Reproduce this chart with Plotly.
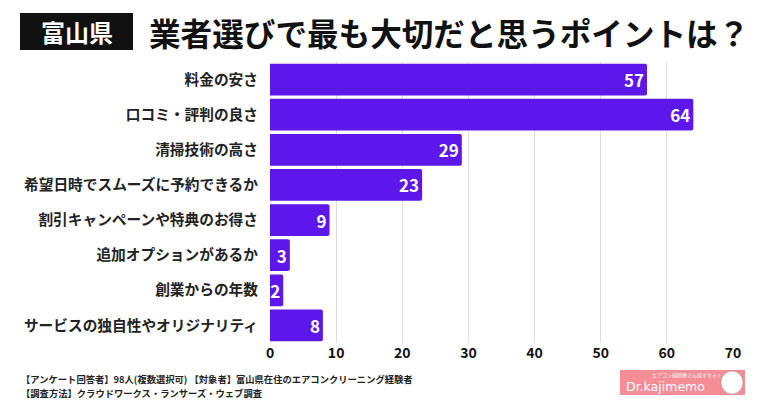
import plotly.graph_objects as go

categories = [
    "料金の安さ",
    "口コミ・評判の良さ",
    "清掃技術の高さ",
    "希望日時でスムーズに予約できるか",
    "割引キャンペーンや特典のお得さ",
    "追加オプションがあるか",
    "創業からの年数",
    "サービスの独自性やオリジナリティ",
]
values = [57, 64, 29, 23, 9, 3, 2, 8]
x_ticks = [0, 10, 20, 30, 40, 50, 60, 70]

title_badge = "富山県"
title_text = "業者選びで最も大切だと思うポイントは？"
note1 = "【アンケート回答者】98人(複数選択可) 【対象者】富山県在住のエアコンクリーニング経験者"
note2 = "【調査方法】クラウドワークス・ランサーズ・ウェブ調査"

W, H = 760, 400
ML, MR, MT, MB = 270, 27, 62, 57
PW, PH = W - ML - MR, H - MT - MB

def px(x):
    return (x - ML) / PW

def py(y):
    return 1 - (y - MT) / PH

FONT = "Noto Sans CJK JP"
BAR = "#5e17eb"

fig = go.Figure(go.Bar(
    x=values, y=categories, orientation="h",
    marker=dict(color=BAR, cornerradius=2, line=dict(width=0)),
    text=values, textposition="inside", insidetextanchor="end",
    textfont=dict(family=FONT, size=17, color="white", weight=700),
    cliponaxis=False, hoverinfo="skip",
))

fig.update_layout(
    width=W, height=H,
    margin=dict(l=ML, r=MR, t=MT, b=MB),
    paper_bgcolor="white", plot_bgcolor="white",
    bargap=0.095, showlegend=False,
    uniformtext=dict(minsize=17, mode="show"),
    font=dict(family=FONT, color="#222222"),
    xaxis=dict(range=[0, 70], tickvals=x_ticks, showgrid=True, gridcolor="#dddddd",
               gridwidth=1, zeroline=False, showline=False, ticks="",
               tickfont=dict(family=FONT, size=14, color="#111111", weight=700),
               fixedrange=True),
    yaxis=dict(autorange="reversed", showgrid=False, zeroline=False, showline=False,
               ticks="", ticklabelstandoff=11,
               tickfont=dict(family=FONT, size=14.7, color="#222222", weight=700)),
)

shapes = [
    dict(type="rect", xref="paper", yref="paper", x0=px(20), x1=px(133), y0=py(50), y1=py(13),
         fillcolor="#111111", line=dict(width=0), layer="above"),
    dict(type="rect", xref="paper", yref="paper", x0=px(620), x1=px(745), y0=py(395), y1=py(370),
         fillcolor="#f58d95", line=dict(width=0), layer="above"),
    dict(type="circle", xref="paper", yref="paper", x0=px(721), x1=px(743), y0=py(394), y1=py(371),
         fillcolor="#ffffff", line=dict(color="#888888", width=0.5), layer="above"),
]
fig.update_layout(shapes=shapes)

ann = [
    dict(text=title_badge, x=px(76.5), y=py(31.5), xref="paper", yref="paper",
         showarrow=False, xanchor="center", yanchor="middle",
         font=dict(family=FONT, size=24, color="white", weight=700)),
    dict(text=title_text, x=px(147), y=py(31.5), xref="paper", yref="paper",
         showarrow=False, xanchor="left", yanchor="middle",
         font=dict(family=FONT, size=31.6, color="#111111", weight=700)),
    dict(text=note1, x=px(19), y=py(379), xref="paper", yref="paper",
         showarrow=False, xanchor="left", yanchor="middle",
         font=dict(family=FONT, size=9.3, color="#222222", weight=700)),
    dict(text=note2, x=px(19), y=py(393), xref="paper", yref="paper",
         showarrow=False, xanchor="left", yanchor="middle",
         font=dict(family=FONT, size=9.3, color="#222222", weight=700)),
    dict(text="Dr.kajimemo", x=px(624), y=py(386), xref="paper", yref="paper",
         showarrow=False, xanchor="left", yanchor="middle",
         font=dict(family="DejaVu Sans", size=12.5, color="white")),
    dict(text="エアコン掃除屋さん探すサイト", x=px(650), y=py(375), xref="paper", yref="paper",
         showarrow=False, xanchor="left", yanchor="middle",
         font=dict(family=FONT, size=5, color="white")),
]
fig.update_layout(annotations=ann)

fig.write_html("out.html", config={"displayModeBar": False},
               post_script="document.body.style.margin='0';document.body.style.overflow='hidden';")
